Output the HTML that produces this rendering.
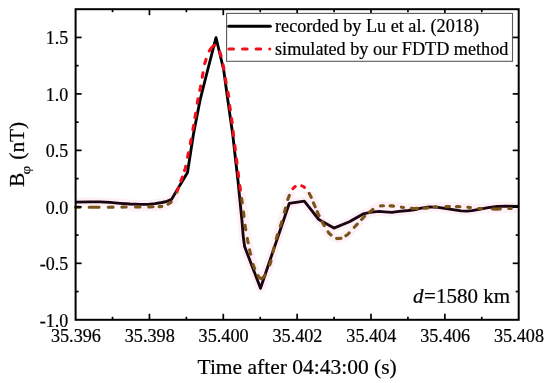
<!DOCTYPE html>
<html><head><meta charset="utf-8"><style>
html,body{margin:0;padding:0;background:#fff;}
body{width:550px;height:383px;overflow:hidden;}
svg{display:block;font-family:"Liberation Serif",serif;filter:blur(0.3px);}
text{stroke:#000;stroke-width:0.2px;}
</style></head><body>
<svg width="550" height="383" viewBox="0 0 550 383">
<defs>
<clipPath id="up"><rect x="0" y="0" width="550" height="192"/></clipPath>
<clipPath id="dn2"><rect x="76.6" y="192" width="441.1" height="126.80000000000001"/></clipPath>
<clipPath id="dn"><rect x="0" y="192" width="550" height="191"/></clipPath>
</defs>
<rect width="550" height="383" fill="#fff"/>
<g fill="none" stroke="#fdf1f7" stroke-width="9" stroke-linejoin="round" stroke-linecap="round" clip-path="url(#dn2)">
<polyline points="75.6,202.1 90.0,201.8 100.0,201.9 110.0,202.4 120.0,203.3 130.0,204.0 140.0,204.4 148.0,204.4 155.0,203.7 162.0,202.5 167.0,201.3 171.5,199.4 187.5,172.5 193.3,135.0 200.1,100.0 206.4,75.0 216.0,37.6 219.9,54.0 223.7,70.0 227.8,100.0 232.8,135.0 235.6,160.0 237.9,180.0 241.9,220.0 243.2,236.0 244.6,246.5 260.5,288.3 289.3,203.3 304.3,201.1 318.8,219.5 333.9,228.1 349.4,221.8 363.1,213.9 371.6,212.1 379.1,211.4 384.5,211.8 391.8,212.3 399.1,211.4 408.2,210.5 415.5,209.5 420.0,208.4 429.1,206.9 438.2,207.3 446.4,208.7 454.5,209.9 461.0,210.8 466.8,211.1 472.0,210.6 479.1,209.3 488.2,207.6 497.3,206.5 506.4,206.2 518.7,206.5"/><polyline points="130.0,207.0 150.0,206.9 160.0,206.6 163.0,206.3 166.8,205.0 169.5,203.3 172.3,201.3 175.0,197.0 177.5,190.5 181.5,179.5 185.3,168.5 188.0,155.0 191.0,140.0 194.3,122.0 197.8,100.0 200.3,88.0 203.2,72.0 204.3,65.0 206.4,58.3 208.0,53.0 210.5,49.0 213.0,46.2 215.5,45.0 217.5,46.5 219.0,49.5 220.3,53.5 221.9,58.5 223.5,67.0 226.0,82.0 228.8,97.0 229.9,107.0 232.0,122.0 235.1,148.0 238.4,175.0 240.1,188.0 241.9,200.0 243.7,214.0 245.4,227.5 247.7,240.6 250.1,252.0 253.4,265.5 256.5,273.0 259.0,277.3 261.0,278.6 263.0,277.8 265.5,274.5 268.0,269.5 270.6,262.5 273.5,249.5 276.9,236.6 281.1,223.9 284.5,212.0 287.6,200.0 290.2,193.0 292.5,189.0 295.0,186.6 298.0,185.5 300.8,185.5 303.5,186.6 306.0,188.8 308.5,192.0 311.3,197.5 314.0,204.2 318.1,213.7 323.1,223.8 328.9,233.1 333.0,236.8 337.0,238.6 341.0,238.3 347.4,234.8 355.2,226.3 364.4,216.5 372.9,209.4 377.0,206.8 381.8,205.7 391.8,205.9 402.3,207.3 414.5,208.5 425.5,208.2 435.0,206.8 447.7,206.6 458.2,206.6 468.2,207.3 480.0,208.6 496.4,209.1 510.0,208.5 518.7,208.3"/>
</g>
<g fill="none" stroke-width="2.85" stroke-linejoin="round">
<polyline clip-path="url(#up)" points="75.6,202.1 90.0,201.8 100.0,201.9 110.0,202.4 120.0,203.3 130.0,204.0 140.0,204.4 148.0,204.4 155.0,203.7 162.0,202.5 167.0,201.3 171.5,199.4 187.5,172.5 193.3,135.0 200.1,100.0 206.4,75.0 216.0,37.6 219.9,54.0 223.7,70.0 227.8,100.0 232.8,135.0 235.6,160.0 237.9,180.0 241.9,220.0 243.2,236.0 244.6,246.5 260.5,288.3 289.3,203.3 304.3,201.1 318.8,219.5 333.9,228.1 349.4,221.8 363.1,213.9 371.6,212.1 379.1,211.4 384.5,211.8 391.8,212.3 399.1,211.4 408.2,210.5 415.5,209.5 420.0,208.4 429.1,206.9 438.2,207.3 446.4,208.7 454.5,209.9 461.0,210.8 466.8,211.1 472.0,210.6 479.1,209.3 488.2,207.6 497.3,206.5 506.4,206.2 518.7,206.5" stroke="#000"/>
<polyline clip-path="url(#dn)" points="75.6,202.1 90.0,201.8 100.0,201.9 110.0,202.4 120.0,203.3 130.0,204.0 140.0,204.4 148.0,204.4 155.0,203.7 162.0,202.5 167.0,201.3 171.5,199.4 187.5,172.5 193.3,135.0 200.1,100.0 206.4,75.0 216.0,37.6 219.9,54.0 223.7,70.0 227.8,100.0 232.8,135.0 235.6,160.0 237.9,180.0 241.9,220.0 243.2,236.0 244.6,246.5 260.5,288.3 289.3,203.3 304.3,201.1 318.8,219.5 333.9,228.1 349.4,221.8 363.1,213.9 371.6,212.1 379.1,211.4 384.5,211.8 391.8,212.3 399.1,211.4 408.2,210.5 415.5,209.5 420.0,208.4 429.1,206.9 438.2,207.3 446.4,208.7 454.5,209.9 461.0,210.8 466.8,211.1 472.0,210.6 479.1,209.3 488.2,207.6 497.3,206.5 506.4,206.2 518.7,206.5" stroke="#1c0410"/>
</g>
<g fill="none" stroke-width="3.1" stroke-linecap="round" stroke-linejoin="round">
<path clip-path="url(#up)" d="M75.60,207.30 L79.95,207.30 M89.15,207.30 L99.05,207.30 M108.25,207.22 L113.05,207.17 M121.85,207.08 L126.15,207.04 M135.55,206.97 L139.95,206.95 M148.75,206.91 L150.00,206.90 L153.05,206.81 M159.15,206.63 L160.00,206.60 L161.77,206.42 M168.03,204.23 L169.50,203.30 L171.12,202.14 M380.51,205.99 L381.80,205.70 L383.55,205.74 M390.05,205.86 L391.80,205.90 L393.56,206.14 M401.44,207.18 L402.30,207.30 L403.56,207.42 M411.44,208.20 L414.50,208.50 L417.55,208.42 M424.15,208.24 L425.50,208.20 L427.67,207.88 M434.13,206.93 L435.00,206.80 L436.75,206.77 M445.95,206.63 L447.70,206.60 L449.45,206.60 M456.45,206.60 L458.20,206.60 L459.95,206.72 M467.85,207.28 L468.20,207.30 L470.36,207.54 M478.74,208.46 L480.00,208.60 L481.25,208.64 M492.35,208.98 L496.40,209.10 L500.35,208.93 M508.75,208.56 L510.00,208.50 L511.25,208.47 M176.88,192.11 L177.50,190.50 L178.41,187.99 M180.91,181.12 L181.50,179.50 L182.37,176.97 M184.58,170.58 L185.30,168.50 L185.73,166.34 M187.57,157.16 L188.00,155.00 L188.43,152.84 M190.28,143.62 L191.00,140.00 L191.13,139.30 M192.90,129.63 L193.70,125.30 M194.99,117.65 L195.68,113.30 M197.30,103.12 L197.80,100.00 L198.05,98.78 M199.82,90.31 L200.30,88.00 L200.66,85.99 M202.27,77.14 L203.05,72.81 M204.72,63.66 L206.04,59.46 M209.28,50.95 L210.50,49.00 L213.00,46.20 L214.84,45.32 M219.74,51.77 L220.30,53.50 L221.09,55.96 M223.09,64.84 L223.50,67.00 L223.86,69.17 M225.41,78.47 L226.00,82.00 L226.15,82.81 M227.87,92.04 L228.68,96.37 M229.75,105.60 L229.90,107.00 L230.31,109.96 M231.53,118.63 L232.00,122.00 L232.12,122.99 M233.11,131.33 L233.63,135.70 M234.82,145.62 L235.10,148.00 L235.34,149.99 M236.44,158.93 L236.97,163.30 M238.06,172.23 L238.40,175.00 L238.61,176.59 M239.79,185.62 L240.10,188.00 L240.40,189.98 M241.69,198.61 L241.90,200.00 L242.28,202.97 M243.44,212.01 L243.70,214.00 L244.00,216.38 M245.13,225.32 L245.40,227.50 L245.78,229.67 M247.32,238.43 L247.70,240.60 L248.15,242.75 M249.65,249.85 L250.10,252.00 L250.62,254.14 M253.16,264.51 L253.40,265.50 L254.69,268.62 M258.04,275.65 L259.00,277.30 L261.00,278.60 L263.00,277.80 L265.21,274.88 M269.71,264.89 L270.60,262.50 L271.00,260.70 M272.92,252.10 L273.50,249.50 L273.94,247.82 M276.34,238.73 L276.90,236.60 L277.59,234.51 M280.41,225.99 L281.10,223.90 L281.70,221.78 M284.41,212.32 L284.50,212.00 L285.52,208.06 M287.80,199.47 L289.33,195.35 M292.92,188.60 L295.00,186.60 L295.20,186.53 M301.78,185.90 L303.50,186.60 L304.43,187.42 M309.20,193.38 L311.20,197.30 M313.46,202.85 L314.00,204.20 L315.17,206.91 M317.23,211.68 L318.10,213.70 L319.08,215.67 M322.12,221.83 L323.10,223.80 L324.26,225.67 M328.08,231.79 L328.90,233.10 L331.02,235.01 M336.64,238.44 L337.00,238.60 L340.99,238.30 M345.86,235.64 L347.40,234.80 L349.19,232.85 M354.29,227.29 L355.20,226.30 L357.29,224.07 M361.60,219.48 L364.40,216.50 L364.64,216.30 M369.50,212.24 L372.88,209.42" stroke="#f0101c"/>
<path clip-path="url(#dn)" d="M75.60,207.30 L79.95,207.30 M89.15,207.30 L99.05,207.30 M108.25,207.22 L113.05,207.17 M121.85,207.08 L126.15,207.04 M135.55,206.97 L139.95,206.95 M148.75,206.91 L150.00,206.90 L153.05,206.81 M159.15,206.63 L160.00,206.60 L161.77,206.42 M168.03,204.23 L169.50,203.30 L171.12,202.14 M380.51,205.99 L381.80,205.70 L383.55,205.74 M390.05,205.86 L391.80,205.90 L393.56,206.14 M401.44,207.18 L402.30,207.30 L403.56,207.42 M411.44,208.20 L414.50,208.50 L417.55,208.42 M424.15,208.24 L425.50,208.20 L427.67,207.88 M434.13,206.93 L435.00,206.80 L436.75,206.77 M445.95,206.63 L447.70,206.60 L449.45,206.60 M456.45,206.60 L458.20,206.60 L459.95,206.72 M467.85,207.28 L468.20,207.30 L470.36,207.54 M478.74,208.46 L480.00,208.60 L481.25,208.64 M492.35,208.98 L496.40,209.10 L500.35,208.93 M508.75,208.56 L510.00,208.50 L511.25,208.47 M176.88,192.11 L177.50,190.50 L178.41,187.99 M180.91,181.12 L181.50,179.50 L182.37,176.97 M184.58,170.58 L185.30,168.50 L185.73,166.34 M187.57,157.16 L188.00,155.00 L188.43,152.84 M190.28,143.62 L191.00,140.00 L191.13,139.30 M192.90,129.63 L193.70,125.30 M194.99,117.65 L195.68,113.30 M197.30,103.12 L197.80,100.00 L198.05,98.78 M199.82,90.31 L200.30,88.00 L200.66,85.99 M202.27,77.14 L203.05,72.81 M204.72,63.66 L206.04,59.46 M209.28,50.95 L210.50,49.00 L213.00,46.20 L214.84,45.32 M219.74,51.77 L220.30,53.50 L221.09,55.96 M223.09,64.84 L223.50,67.00 L223.86,69.17 M225.41,78.47 L226.00,82.00 L226.15,82.81 M227.87,92.04 L228.68,96.37 M229.75,105.60 L229.90,107.00 L230.31,109.96 M231.53,118.63 L232.00,122.00 L232.12,122.99 M233.11,131.33 L233.63,135.70 M234.82,145.62 L235.10,148.00 L235.34,149.99 M236.44,158.93 L236.97,163.30 M238.06,172.23 L238.40,175.00 L238.61,176.59 M239.79,185.62 L240.10,188.00 L240.40,189.98 M241.69,198.61 L241.90,200.00 L242.28,202.97 M243.44,212.01 L243.70,214.00 L244.00,216.38 M245.13,225.32 L245.40,227.50 L245.78,229.67 M247.32,238.43 L247.70,240.60 L248.15,242.75 M249.65,249.85 L250.10,252.00 L250.62,254.14 M253.16,264.51 L253.40,265.50 L254.69,268.62 M258.04,275.65 L259.00,277.30 L261.00,278.60 L263.00,277.80 L265.21,274.88 M269.71,264.89 L270.60,262.50 L271.00,260.70 M272.92,252.10 L273.50,249.50 L273.94,247.82 M276.34,238.73 L276.90,236.60 L277.59,234.51 M280.41,225.99 L281.10,223.90 L281.70,221.78 M284.41,212.32 L284.50,212.00 L285.52,208.06 M287.80,199.47 L289.33,195.35 M292.92,188.60 L295.00,186.60 L295.20,186.53 M301.78,185.90 L303.50,186.60 L304.43,187.42 M309.20,193.38 L311.20,197.30 M313.46,202.85 L314.00,204.20 L315.17,206.91 M317.23,211.68 L318.10,213.70 L319.08,215.67 M322.12,221.83 L323.10,223.80 L324.26,225.67 M328.08,231.79 L328.90,233.10 L331.02,235.01 M336.64,238.44 L337.00,238.60 L340.99,238.30 M345.86,235.64 L347.40,234.80 L349.19,232.85 M354.29,227.29 L355.20,226.30 L357.29,224.07 M361.60,219.48 L364.40,216.50 L364.64,216.30 M369.50,212.24 L372.88,209.42" stroke="#7a5418"/>
</g>
<g stroke="#000" stroke-width="1.7"><line x1="112.53" y1="319.80" x2="112.53" y2="316.80"/><line x1="112.53" y1="9.20" x2="112.53" y2="12.20"/><line x1="149.45" y1="319.80" x2="149.45" y2="313.80"/><line x1="149.45" y1="9.20" x2="149.45" y2="15.20"/><line x1="186.38" y1="319.80" x2="186.38" y2="316.80"/><line x1="186.38" y1="9.20" x2="186.38" y2="12.20"/><line x1="223.30" y1="319.80" x2="223.30" y2="313.80"/><line x1="223.30" y1="9.20" x2="223.30" y2="15.20"/><line x1="260.23" y1="319.80" x2="260.23" y2="316.80"/><line x1="260.23" y1="9.20" x2="260.23" y2="12.20"/><line x1="297.15" y1="319.80" x2="297.15" y2="313.80"/><line x1="297.15" y1="9.20" x2="297.15" y2="15.20"/><line x1="334.08" y1="319.80" x2="334.08" y2="316.80"/><line x1="334.08" y1="9.20" x2="334.08" y2="12.20"/><line x1="371.00" y1="319.80" x2="371.00" y2="313.80"/><line x1="371.00" y1="9.20" x2="371.00" y2="15.20"/><line x1="407.92" y1="319.80" x2="407.92" y2="316.80"/><line x1="407.92" y1="9.20" x2="407.92" y2="12.20"/><line x1="444.85" y1="319.80" x2="444.85" y2="313.80"/><line x1="444.85" y1="9.20" x2="444.85" y2="15.20"/><line x1="481.77" y1="319.80" x2="481.77" y2="316.80"/><line x1="481.77" y1="9.20" x2="481.77" y2="12.20"/><line x1="75.60" y1="291.56" x2="78.60" y2="291.56"/><line x1="518.70" y1="291.56" x2="515.70" y2="291.56"/><line x1="75.60" y1="263.33" x2="81.60" y2="263.33"/><line x1="518.70" y1="263.33" x2="512.70" y2="263.33"/><line x1="75.60" y1="235.09" x2="78.60" y2="235.09"/><line x1="518.70" y1="235.09" x2="515.70" y2="235.09"/><line x1="75.60" y1="206.85" x2="81.60" y2="206.85"/><line x1="518.70" y1="206.85" x2="512.70" y2="206.85"/><line x1="75.60" y1="178.62" x2="78.60" y2="178.62"/><line x1="518.70" y1="178.62" x2="515.70" y2="178.62"/><line x1="75.60" y1="150.38" x2="81.60" y2="150.38"/><line x1="518.70" y1="150.38" x2="512.70" y2="150.38"/><line x1="75.60" y1="122.15" x2="78.60" y2="122.15"/><line x1="518.70" y1="122.15" x2="515.70" y2="122.15"/><line x1="75.60" y1="93.91" x2="81.60" y2="93.91"/><line x1="518.70" y1="93.91" x2="512.70" y2="93.91"/><line x1="75.60" y1="65.67" x2="78.60" y2="65.67"/><line x1="518.70" y1="65.67" x2="515.70" y2="65.67"/><line x1="75.60" y1="37.44" x2="81.60" y2="37.44"/><line x1="518.70" y1="37.44" x2="512.70" y2="37.44"/></g>
<rect x="75.6" y="9.2" width="443.10" height="310.60" fill="none" stroke="#000" stroke-width="2"/>
<rect x="226.6" y="13.4" width="285.9" height="47.9" fill="#fff" stroke="#5a5a5a" stroke-width="1.1"/>
<line x1="228.7" y1="26.3" x2="270.3" y2="26.3" stroke="#000" stroke-width="3" stroke-linecap="round"/>
<line x1="228.9" y1="49" x2="269.8" y2="49" stroke="#f0101c" stroke-width="3" stroke-dasharray="4.6 9" stroke-linecap="round"/>
<g font-size="18.2" fill="#000">
<text x="275" y="31.8">recorded by Lu et al. (2018)</text>
<text x="275" y="54.9">simulated by our FDTD method</text>
</g>
<g font-size="18.2" fill="#000"><text x="75.90" y="341.5" text-anchor="middle">35.396</text><text x="149.75" y="341.5" text-anchor="middle">35.398</text><text x="223.60" y="341.5" text-anchor="middle">35.400</text><text x="297.45" y="341.5" text-anchor="middle">35.402</text><text x="371.30" y="341.5" text-anchor="middle">35.404</text><text x="445.15" y="341.5" text-anchor="middle">35.406</text><text x="519.00" y="341.5" text-anchor="middle">35.408</text><text x="68.2" y="44.14" text-anchor="end" font-size="18">1.5</text><text x="68.2" y="100.61" text-anchor="end" font-size="18">1.0</text><text x="68.2" y="157.08" text-anchor="end" font-size="18">0.5</text><text x="68.2" y="213.55" text-anchor="end" font-size="18">0.0</text><text x="68.2" y="270.03" text-anchor="end" font-size="18">-0.5</text><text x="68.2" y="326.50" text-anchor="end" font-size="18">-1.0</text></g>
<text x="297.15" y="374" font-size="21.5" text-anchor="middle">Time after 04:43:00 (s)</text>
<text transform="translate(24.2,186.9) rotate(-90)" font-size="21.3">B</text>
<text transform="translate(30.2,170.1) rotate(-90) scale(1.0,0.8)" font-size="15" text-anchor="middle">φ</text>
<text transform="translate(24.2,159.7) rotate(-90)" font-size="21.3">(nT)</text>
<text x="413" y="302.8" font-size="21"><tspan font-style="italic">d</tspan><tspan dx="0.6">=1580 km</tspan></text>
</svg>
</body></html>
